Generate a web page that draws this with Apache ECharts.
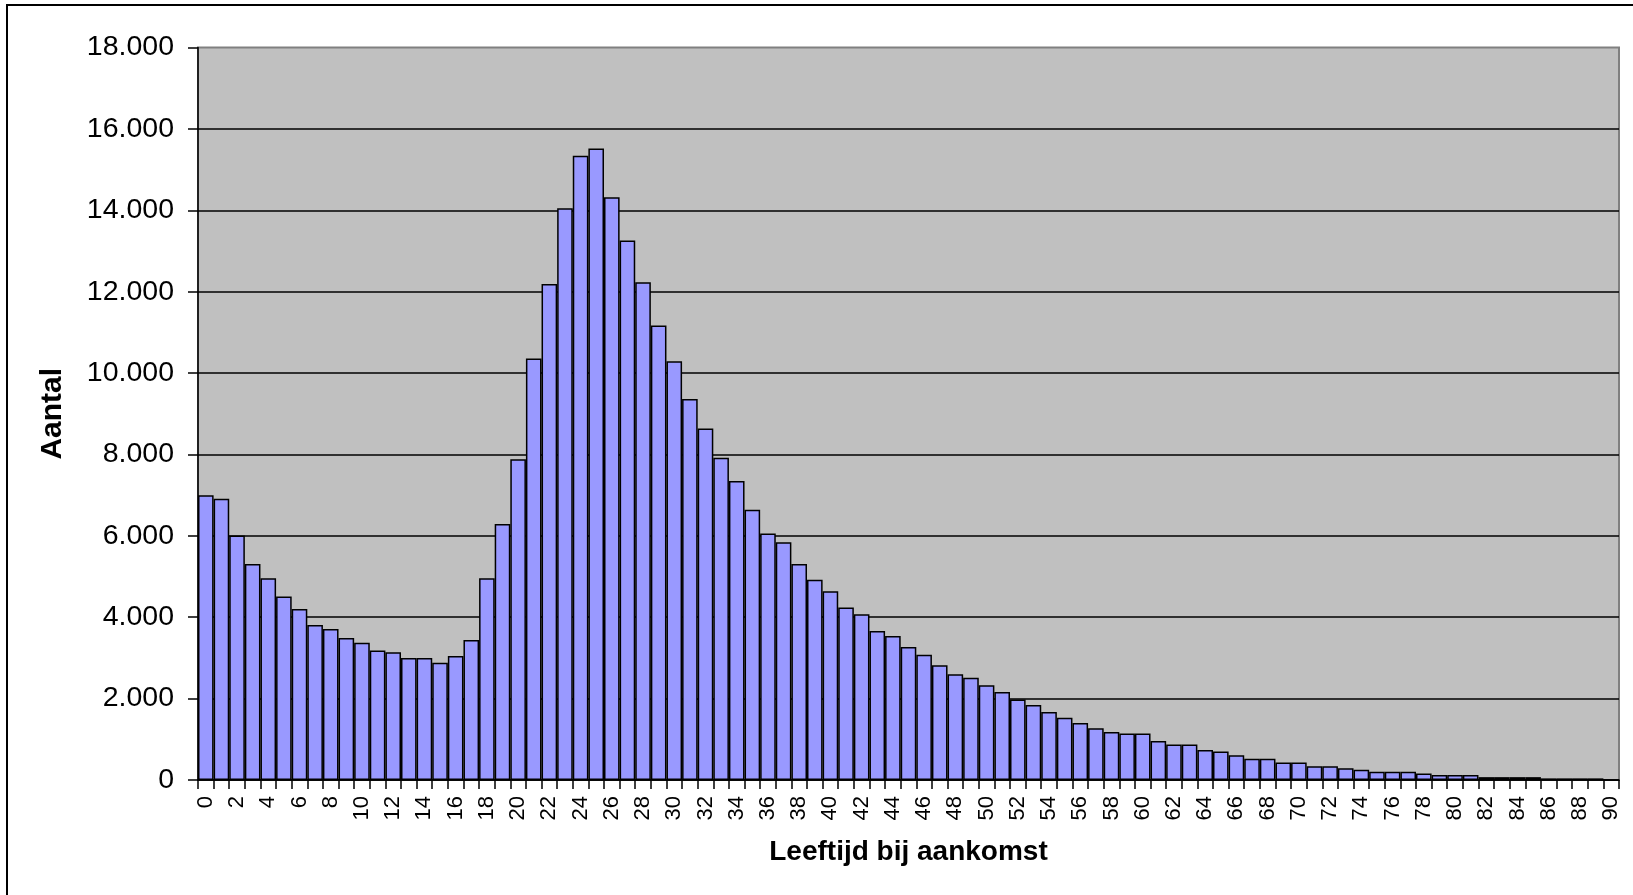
<!DOCTYPE html>
<html>
<head>
<meta charset="utf-8">
<script src="https://cdn.jsdelivr.net/npm/echarts@6/dist/echarts.min.js"></script>
<style>
html,body{margin:0;padding:0;background:#fff;}
#chart{width:1633px;height:895px;}
</style>
</head>
<body>
<div id="chart"></div>
<script>
var ages = [];
for (var a = 0; a <= 90; a++) { ages.push(String(a)); }
var counts = [
  7000, 6910, 6010, 5310, 4960, 4510, 4200, 3810, 3710, 3490,
  3370, 3180, 3140, 3000, 3000, 2880, 3050, 3440, 4960, 6290,
  7880, 10360, 12190, 14050, 15340, 15520, 14320, 13260, 12230, 11170,
  10290, 9360, 8640, 7920, 7350, 6640, 6060, 5840, 5310, 4920,
  4640, 4240, 4070, 3660, 3540, 3270, 3080, 2820, 2600, 2510,
  2330, 2160, 1980, 1840, 1670, 1530, 1400, 1270, 1180, 1140,
  1140, 960, 870, 870, 740, 700, 610, 520, 520, 430,
  430, 340, 340, 290, 250, 200, 200, 200, 160, 120,
  120, 120, 70, 70, 70, 70, 40, 40, 40, 40,
  0
];
var yTicks = [0, 2000, 4000, 6000, 8000, 10000, 12000, 14000, 16000, 18000];
var xTitle = 'Leeftijd bij aankomst';
var yTitle = 'Aantal';

function fmt(v) {
  return String(v).replace(/\B(?=(\d{3})+(?!\d))/g, '.');
}

var chart = echarts.init(document.getElementById('chart'), null, {renderer: 'canvas'});
var FONT = '"Liberation Sans", Arial, sans-serif';
chart.setOption({
  animation: false,
  backgroundColor: '#ffffff',
  graphic: [{
    type: 'rect',
    shape: {x: 7, y: 5, width: 2000, height: 2000},
    style: {fill: 'none', stroke: '#000', lineWidth: 2},
    silent: true
  }],
  grid: {
    left: 198, top: 47.5, right: 14, bottom: 115,
    show: true, backgroundColor: '#C0C0C0', borderColor: '#808080', borderWidth: 2
  },
  xAxis: {
    type: 'category',
    data: ages,
    boundaryGap: true,
    name: xTitle,
    nameLocation: 'middle',
    nameGap: 58,
    nameTextStyle: {fontFamily: FONT, fontSize: 28, fontWeight: 'bold', color: '#000'},
    axisLine: {lineStyle: {color: '#000', width: 1.5}},
    axisTick: {show: true, interval: 0, alignWithLabel: false, length: 9, lineStyle: {color: '#000', width: 1.5}},
    axisLabel: {interval: 1, rotate: 90, margin: 16, fontFamily: FONT, fontSize: 22, color: '#000'},
    splitLine: {show: false}
  },
  yAxis: {
    type: 'value',
    min: 0, max: 18000, interval: 2000,
    name: yTitle,
    nameLocation: 'middle',
    nameGap: 130,
    nameTextStyle: {fontFamily: FONT, fontSize: 30, fontWeight: 'bold', color: '#000'},
    axisLine: {show: true, lineStyle: {color: '#000', width: 1.5}},
    axisTick: {show: true, length: 10, lineStyle: {color: '#000', width: 1.5}},
    axisLabel: {margin: 24, fontFamily: FONT, fontSize: 28.5, color: '#000', formatter: function (v) { return fmt(v); }},
    splitLine: {show: true, showMaxLine: false, lineStyle: {color: '#000', width: 1.5}}
  },
  series: [{
    type: 'bar',
    data: counts,
    barCategoryGap: '0%',
    itemStyle: {color: '#9999FF', borderColor: '#000', borderWidth: 1.5}
  }]
});
</script>
</body>
</html>
